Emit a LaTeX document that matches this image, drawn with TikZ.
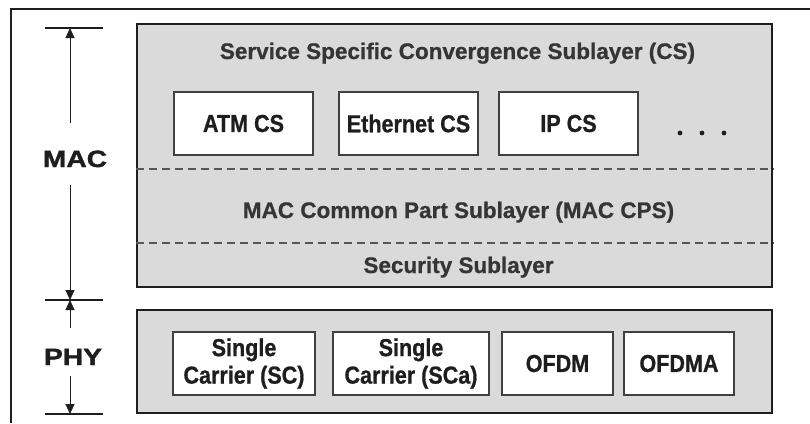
\documentclass[tikz,border=0pt]{standalone}
\usepackage{fontspec}
\setmainfont{Liberation Sans}
\newfontfamily\headfont{Liberation Sans Bold}[FakeBold=0.8]
\newfontfamily\labelfont{Liberation Sans Bold}[FakeStretch=0.88, FakeBold=0.8]
\newfontfamily\sidefont{Liberation Sans Bold}[FakeStretch=1.2, FakeBold=1.6]
\usetikzlibrary{arrows.meta}
\definecolor{layerfill}{HTML}{DADADA}
\definecolor{ink}{HTML}{1E1E1E}

\begin{document}
\begin{tikzpicture}[x=1pt,y=-1pt,
  layerbox/.style={draw=ink, line width=2.6pt, fill=layerfill, inner sep=0pt},
  protobox/.style={draw=ink!85, line width=2.2pt, fill=white, inner sep=0pt,
    font=\labelfont\fontsize{24.5}{27.5}\selectfont, text=ink, align=center},
  heading/.style={font=\headfont\fontsize{22.5}{27}\selectfont, text=ink!90, anchor=base},
  sidelabel/.style={font=\sidefont\fontsize{23.5}{27}\selectfont, text=ink, anchor=base},
  sepline/.style={draw=ink!75, line width=2pt, dash pattern=on 8pt off 5pt},
  ticksline/.style={draw=ink, line width=1.1pt},
  dimarrow/.style={draw=ink, line width=0.9pt, -{Triangle[length=10pt,width=9pt]}},
  dotmark/.style={fill=ink}
]
\useasboundingbox (0,0) rectangle (810,423);
\fill[white] (0,0) rectangle (810,423);
% frame along the top and left
\draw[ink, line width=1.5pt] (11,423) -- (11,9) -- (810,9);

% layers
\node[layerbox, minimum width=635pt, minimum height=263pt] (mac) at (454.5,155.5) {};
\node[layerbox, minimum width=635pt, minimum height=103pt] (phy) at (454.5,361.5) {};

% sublayer separators
\coordinate (sepA) at (0,169);
\coordinate (sepB) at (0,243);
\draw[sepline] (mac.west |- sepA) -- (mac.east |- sepA);
\draw[sepline] (mac.west |- sepB) -- (mac.east |- sepB);

% headings
\node[heading] (cs) at (457.5,59) {Service Specific Convergence Sublayer (CS)};
\node[heading] (cps) at (458.5,218) {MAC Common Part Sublayer (MAC CPS)};
\node[heading] (sec) at (458.5,273) {Security Sublayer};

% convergence sublayer entities
\node[protobox, minimum width=139pt, minimum height=63pt] (atm) at (243.5,123.5) {ATM CS};
\node[protobox, minimum width=139pt, minimum height=63pt] (eth) at (408.5,123.5) {Ethernet CS};
\node[protobox, minimum width=139pt, minimum height=63pt] (ip) at (568.5,123.5) {IP CS};
\fill[dotmark] (680,133) circle (2.4pt) (702,133) circle (2.4pt) (724,133) circle (2.4pt);

% physical layer variants
\node[protobox, minimum width=142pt, minimum height=63pt] (sc) at (244,363.5) {Single\\Carrier (SC)};
\node[protobox, minimum width=156pt, minimum height=63pt] (sca) at (411,363.5) {Single\\Carrier (SCa)};
\node[protobox, minimum width=111pt, minimum height=63pt] (ofdm) at (557.5,363.5) {OFDM};
\node[protobox, minimum width=110pt, minimum height=63pt] (ofdma) at (679,363.5) {OFDMA};

% extent markers on the left
\coordinate (tTop) at (70,28);
\coordinate (tMid) at (70,300);
\coordinate (tBot) at (70,414);
\draw[ticksline] ([xshift=-25pt]tTop) -- ([xshift=33pt]tTop);
\draw[ticksline] ([xshift=-25pt]tMid) -- ([xshift=33pt]tMid);
\draw[ticksline] ([xshift=-25pt]tBot) -- ([xshift=33pt]tBot);

\node[sidelabel] (maclbl) at (75,167) {MAC};
\node[sidelabel] (phylbl) at (73,365) {PHY};

\coordinate (macUp) at (70,123);
\coordinate (macDown) at (70,185);
\coordinate (phyUp) at (70,328);
\coordinate (phyDown) at (70,376);
\draw[dimarrow] (macUp) -- (tTop);
\draw[dimarrow] (macDown) -- (tMid);
\draw[dimarrow] (phyUp) -- (tMid);
\draw[dimarrow] (phyDown) -- (tBot);
\end{tikzpicture}
\end{document}
